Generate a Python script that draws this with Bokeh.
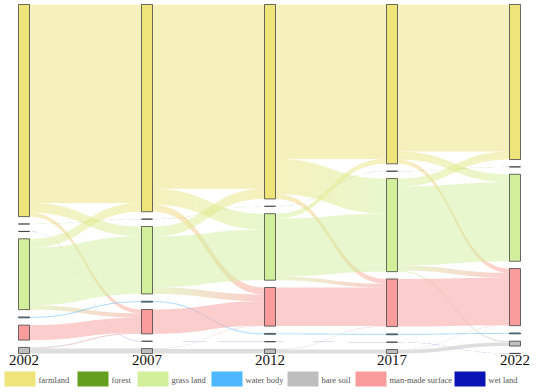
import numpy as np
from bokeh.plotting import figure
from bokeh.models import Range1d
from bokeh.core.properties import value
from bokeh.embed import file_html
from bokeh.resources import INLINE

# ---------------- data ----------------
years = ["2002", "2007", "2012", "2017", "2022"]
categories = ["farmland", "forest", "grass land", "water body", "bare soil",
              "man-made surface", "wet land"]
cat_colors = ["#EEE47A", "#64A01E", "#D2F09C", "#4DB8FF", "#BEBEBE", "#FA9C9C", "#0A14B4"]

# share of the area (%) changing from one class to another between two years
flows_2002_2007 = [
    ("farmland", "farmland", 65.0), ("farmland", "grass land", 3.2),
    ("farmland", "man-made surface", 1.3),
    ("forest", "forest", 0.05), ("wet land", "wet land", 0.05),
    ("grass land", "farmland", 2.9), ("grass land", "grass land", 18.9),
    ("grass land", "man-made surface", 1.4),
    ("water body", "water body", 0.3),
    ("man-made surface", "man-made surface", 4.9),
    ("bare soil", "bare soil", 1.6), ("bare soil", "man-made surface", 0.4),
]
flows_2007_2012 = [
    ("farmland", "farmland", 60.4), ("farmland", "grass land", 5.2),
    ("farmland", "man-made surface", 2.3),
    ("forest", "forest", 0.05), ("wet land", "wet land", 0.05),
    ("grass land", "farmland", 3.3), ("grass land", "grass land", 16.6),
    ("grass land", "man-made surface", 2.2),
    ("water body", "water body", 0.3),
    ("man-made surface", "man-made surface", 8.0),
    ("bare soil", "bare soil", 1.45), ("bare soil", "man-made surface", 0.15),
]
flows_2012_2017 = [
    ("farmland", "farmland", 50.6), ("farmland", "grass land", 11.5),
    ("farmland", "man-made surface", 1.6),
    ("forest", "forest", 0.05), ("wet land", "wet land", 0.05),
    ("grass land", "farmland", 1.6), ("grass land", "grass land", 19.0),
    ("grass land", "man-made surface", 1.2),
    ("water body", "water body", 0.3),
    ("man-made surface", "man-made surface", 12.65),
    ("bare soil", "bare soil", 1.3), ("bare soil", "man-made surface", 0.15),
]
flows_2017_2022 = [
    ("farmland", "farmland", 48.2), ("farmland", "grass land", 2.6),
    ("farmland", "man-made surface", 1.4),
    ("forest", "forest", 0.05), ("wet land", "wet land", 0.05),
    ("grass land", "farmland", 2.6), ("grass land", "grass land", 25.9),
    ("grass land", "man-made surface", 1.6), ("grass land", "bare soil", 0.4),
    ("water body", "water body", 0.3),
    ("man-made surface", "man-made surface", 15.6),
    ("bare soil", "bare soil", 1.2), ("bare soil", "man-made surface", 0.1),
]
period_flows = [flows_2002_2007, flows_2007_2012, flows_2012_2017, flows_2017_2022]

# vertical order of the nodes in every column (top to bottom)
column_order = [
    ["farmland", "forest", "wet land", "grass land", "water body", "man-made surface", "bare soil"],
    ["farmland", "forest", "grass land", "water body", "man-made surface", "wet land", "bare soil"],
    ["farmland", "forest", "grass land", "man-made surface", "water body", "wet land", "bare soil"],
    ["farmland", "forest", "grass land", "man-made surface", "water body", "wet land", "bare soil"],
    ["farmland", "forest", "grass land", "man-made surface", "water body", "bare soil", "wet land"],
]

# ---------------- layout ----------------
W, H = 550, 392
NODE_W = 11
COL_X0 = 18
COL_STEP = 122.75
TOP = 4
SANKEY_H = 349
PAD = 7.3
LINK_ALPHA = 0.5
SERIF = value("Liberation Serif, Times New Roman, serif")

color_of = dict(zip(categories, cat_colors))
ncol = len(years)

node_val = [dict() for _ in range(ncol)]
for c in range(ncol):
    for cat in column_order[c]:
        out_v = sum(v for s, t, v in period_flows[c] if s == cat) if c < ncol - 1 else 0
        in_v = sum(v for s, t, v in period_flows[c - 1] if t == cat) if c > 0 else 0
        node_val[c][cat] = max(in_v, out_v)

ky = min((SANKEY_H - (len(column_order[c]) - 1) * PAD) / sum(node_val[c].values())
         for c in range(ncol))

node_y = [dict() for _ in range(ncol)]
for c in range(ncol):
    y = TOP
    for cat in column_order[c]:
        h = node_val[c][cat] * ky
        node_y[c][cat] = (y, y + h)
        y += h + PAD


def hex2rgb(h):
    h = h.lstrip("#")
    return np.array([int(h[i:i + 2], 16) for i in (0, 2, 4)], dtype=float)


def rgb2hex(a):
    a = np.clip(np.round(a), 0, 255).astype(int)
    return "#%02x%02x%02x" % tuple(a)


p = figure(width=W, height=H, x_range=Range1d(0, W), y_range=Range1d(H, 0),
           x_axis_type=None, y_axis_type=None, toolbar_location=None,
           output_backend="svg", min_border=0, outline_line_color=None)
p.grid.visible = False
p.background_fill_color = "white"
p.border_fill_color = "white"

link_xs, link_ys, link_cols = [], [], []
for c in range(ncol - 1):
    flows = period_flows[c]
    x0 = round(COL_X0 + c * COL_STEP) + NODE_W
    x1 = round(COL_X0 + (c + 1) * COL_STEP)
    src_off = {}
    for cat in column_order[c]:
        outs = [f for f in flows if f[0] == cat]
        outs.sort(key=lambda f: node_y[c + 1][f[1]][0])
        y = node_y[c][cat][0]
        for f in outs:
            src_off[f] = y
            y += f[2] * ky
    tgt_off = {}
    for cat in column_order[c + 1]:
        ins = [f for f in flows if f[1] == cat]
        ins.sort(key=lambda f: node_y[c][f[0]][0])
        y = node_y[c + 1][cat][0]
        for f in ins:
            tgt_off[f] = y
            y += f[2] * ky
    for f in flows:
        s, t, v = f
        w = v * ky
        sy, ty = src_off[f], tgt_off[f]
        tt = np.linspace(0, 1, 300)
        xm = (x0 + x1) / 2
        X = (1 - tt) ** 3 * x0 + 3 * (1 - tt) ** 2 * tt * xm + 3 * (1 - tt) * tt ** 2 * xm + tt ** 3 * x1
        Y = (1 - tt) ** 3 * sy + 3 * (1 - tt) ** 2 * tt * sy + 3 * (1 - tt) * tt ** 2 * ty + tt ** 3 * ty
        c0, c1 = hex2rgb(color_of[s]), hex2rgb(color_of[t])
        k = 1 if s == t else 28
        bounds = np.round(np.linspace(x0, x1, k + 1))
        if k > 1:
            bounds[1:-1] += 0.5
        for i in range(k):
            xa, xb = bounds[i], bounds[i + 1]
            xx = np.linspace(xa, xb, max(4, int(60 / k) + 2))
            yt = np.interp(xx, X, Y)
            link_xs.append(list(np.concatenate([xx, xx[::-1]])))
            link_ys.append(list(np.concatenate([yt, (yt + w)[::-1]])))
            fmid = ((xa + xb) / 2 - x0) / (x1 - x0)
            link_cols.append(rgb2hex(c0 + (c1 - c0) * fmid))

p.patches(link_xs, link_ys, fill_color=link_cols, fill_alpha=LINK_ALPHA, line_color=None)

# nodes
nl, nr, nt, nb, nc = [], [], [], [], []
for c in range(ncol):
    xl = round(COL_X0 + c * COL_STEP)
    for cat in column_order[c]:
        y0, y1 = node_y[c][cat]
        nl.append(xl); nr.append(xl + NODE_W); nt.append(y0); nb.append(y1)
        nc.append(color_of[cat])
p.quad(left=nl, right=nr, top=nt, bottom=nb, fill_color=nc, fill_alpha=1.0,
       line_color="#3a3a3a", line_alpha=0.75, line_width=1)

# year labels
p.text(x=[round(COL_X0 + c * COL_STEP) + NODE_W / 2 for c in range(ncol)],
       y=[TOP + SANKEY_H + 6.5] * ncol, text=years,
       text_font=SERIF, text_font_size="15px",
       text_align="center", text_baseline="middle", text_color="#111111")

# legend
leg_x = [4, 77, 137, 211, 287, 355, 454]
SW_W, SW_H = 31, 15
LEG_TOP = 371
p.quad(left=leg_x, right=[x + SW_W for x in leg_x], top=[LEG_TOP] * 7,
       bottom=[LEG_TOP + SW_H] * 7, fill_color=cat_colors, line_color=None)
p.text(x=[x + SW_W + 3 for x in leg_x], y=[LEG_TOP + SW_H / 2 + 0.5] * 7, text=categories,
       text_font=SERIF, text_font_size="8.5px",
       text_align="left", text_baseline="middle", text_color="#555555")

open("out.html", "w").write(file_html(p, INLINE))
